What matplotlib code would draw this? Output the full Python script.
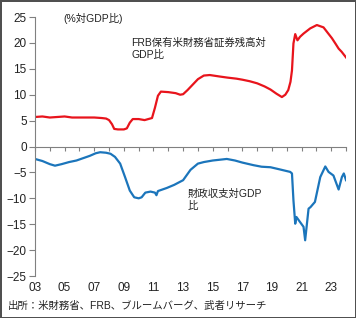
import matplotlib
matplotlib.use("Agg")
import matplotlib.pyplot as plt
from matplotlib.ticker import MultipleLocator, FixedLocator, FuncFormatter

plt.rcParams['font.family'] = ['Liberation Sans', 'Noto Sans CJK JP', 'DejaVu Sans']

# FRB holdings of Treasuries / GDP (%)
frb_x = [2003.0, 2003.5, 2004.0, 2004.5, 2005.0, 2005.5, 2006.0, 2006.5, 2007.0, 2007.5,
         2007.8, 2008.0, 2008.2, 2008.35, 2008.6, 2009.0, 2009.2, 2009.4, 2009.6, 2010.0,
         2010.4, 2010.9, 2011.1, 2011.3, 2011.5, 2012.0, 2012.5, 2012.8, 2013.0, 2013.3,
         2013.6, 2014.0, 2014.4, 2014.8, 2015.5, 2016.0, 2016.6, 2017.0, 2017.5, 2018.0,
         2018.5, 2018.9, 2019.3, 2019.67, 2019.9, 2020.1, 2020.25, 2020.35, 2020.45, 2020.57,
         2020.72, 2020.9, 2021.13, 2021.58, 2022.03, 2022.48, 2022.75, 2023.05, 2023.3, 2023.5,
         2023.7, 2024.0]
frb_y = [5.7, 5.8, 5.6, 5.7, 5.8, 5.6, 5.6, 5.6, 5.6, 5.5,
         5.4, 5.1, 4.3, 3.4, 3.3, 3.3, 3.5, 4.6, 5.3, 5.3,
         5.1, 5.5, 7.5, 9.8, 10.6, 10.5, 10.3, 10.0, 10.1, 10.9,
         11.8, 13.0, 13.7, 13.8, 13.5, 13.3, 13.1, 12.9, 12.6, 12.2,
         11.6, 11.0, 10.2, 9.55, 10.0, 10.9, 12.5, 14.7, 19.9, 21.7,
         20.5, 21.2, 21.8, 22.8, 23.45, 23.0, 22.0, 20.9, 19.8, 18.9,
         18.3, 17.2]

# Federal budget balance / GDP (%)
bal_x = [2003.0, 2003.5, 2004.0, 2004.35, 2004.8, 2005.3, 2005.8, 2006.3, 2006.7, 2007.1,
         2007.4, 2007.8, 2008.1, 2008.4, 2008.75, 2009.08, 2009.4, 2009.7, 2010.0, 2010.2,
         2010.45, 2010.8, 2011.1, 2011.2, 2011.3, 2011.9, 2012.4, 2013.0, 2013.5, 2014.0,
         2014.4, 2015.0, 2015.95, 2016.5, 2017.0, 2017.75, 2018.3, 2018.9, 2019.5, 2020.23,
         2020.35, 2020.45, 2020.57, 2020.65, 2020.9, 2021.13, 2021.24, 2021.47, 2021.6, 2021.9,
         2022.26, 2022.6, 2022.82, 2023.15, 2023.5, 2023.72, 2023.85, 2024.0]
bal_y = [-2.4, -2.8, -3.4, -3.7, -3.4, -3.0, -2.7, -2.2, -1.8, -1.3,
         -1.1, -1.2, -1.4, -2.0, -3.3, -5.9, -8.5, -9.8, -10.0, -9.8,
         -8.9, -8.7, -8.9, -9.4, -8.6, -8.0, -7.4, -6.5, -4.5, -3.3,
         -3.0, -2.7, -2.4, -2.7, -3.1, -3.6, -3.9, -4.0, -4.4, -4.9,
         -5.2, -10.4, -14.9, -13.6, -14.6, -15.5, -18.1, -12.0, -11.7, -10.7,
         -5.9, -3.85, -4.9, -5.6, -8.3, -5.9, -5.2, -6.5]

xtick_years = [2003, 2005, 2007, 2009, 2011, 2013, 2015, 2017, 2019, 2021, 2023]
yticks = [-25, -20, -15, -10, -5, 0, 5, 10, 15, 20, 25]

fig = plt.figure(figsize=(3.56, 3.18), dpi=100, linewidth=2.0, edgecolor='#505050')
ax = fig.add_axes([0.0983, 0.132, 0.8737, 0.8145])

ax.plot(frb_x, frb_y, color='#e8141c', lw=1.6)
ax.plot(bal_x, bal_y, color='#1b75bb', lw=1.6)

ax.set_xlim(2003, 2024.0)
ax.set_ylim(-25, 25)

for s in ['top', 'right']:
    ax.spines[s].set_visible(False)
ax.spines['left'].set_color('#808080')
ax.spines['bottom'].set_position(('data', 0))
ax.spines['bottom'].set_color('#808080')

ax.yaxis.set_major_locator(FixedLocator(yticks))
ax.tick_params(axis='y', direction='out', length=4, color='#808080', labelsize=8.5, pad=2,
               labelcolor='#222222')
ax.xaxis.set_major_locator(MultipleLocator(1))
ax.tick_params(axis='x', direction='out', length=3, color='#808080', labelbottom=False)

sec = ax.secondary_xaxis(0.0)
sec.spines['bottom'].set_visible(False)
sec.xaxis.set_major_locator(FixedLocator(xtick_years))
sec.xaxis.set_major_formatter(FuncFormatter(lambda v, p: f"{int(round(v)) % 100:02d}"))
sec.tick_params(axis='x', length=0, labelsize=8.5, pad=4, labelcolor='#222222')

ax.text(0.09, 0.995, '(%対GDP比)', transform=ax.transAxes, fontsize=7.5,
        ha='left', va='center', color='#222222')
ax.text(2009.5, 18.9, 'FRB保有米財務省証券残高対\nGDP比', fontsize=7.5, ha='left',
        va='center', color='#222222', linespacing=1.25)
ax.text(2013.3, -10.4, '財政収支対GDP\n比', fontsize=7.5, ha='left', va='center',
        color='#222222', linespacing=1.25)

fig.text(0.022, 0.038, '出所：米財務省、FRB、ブルームバーグ、武者リサーチ', fontsize=7.5,
         ha='left', va='center', color='#222222')

fig.savefig('out.png', dpi=100)
